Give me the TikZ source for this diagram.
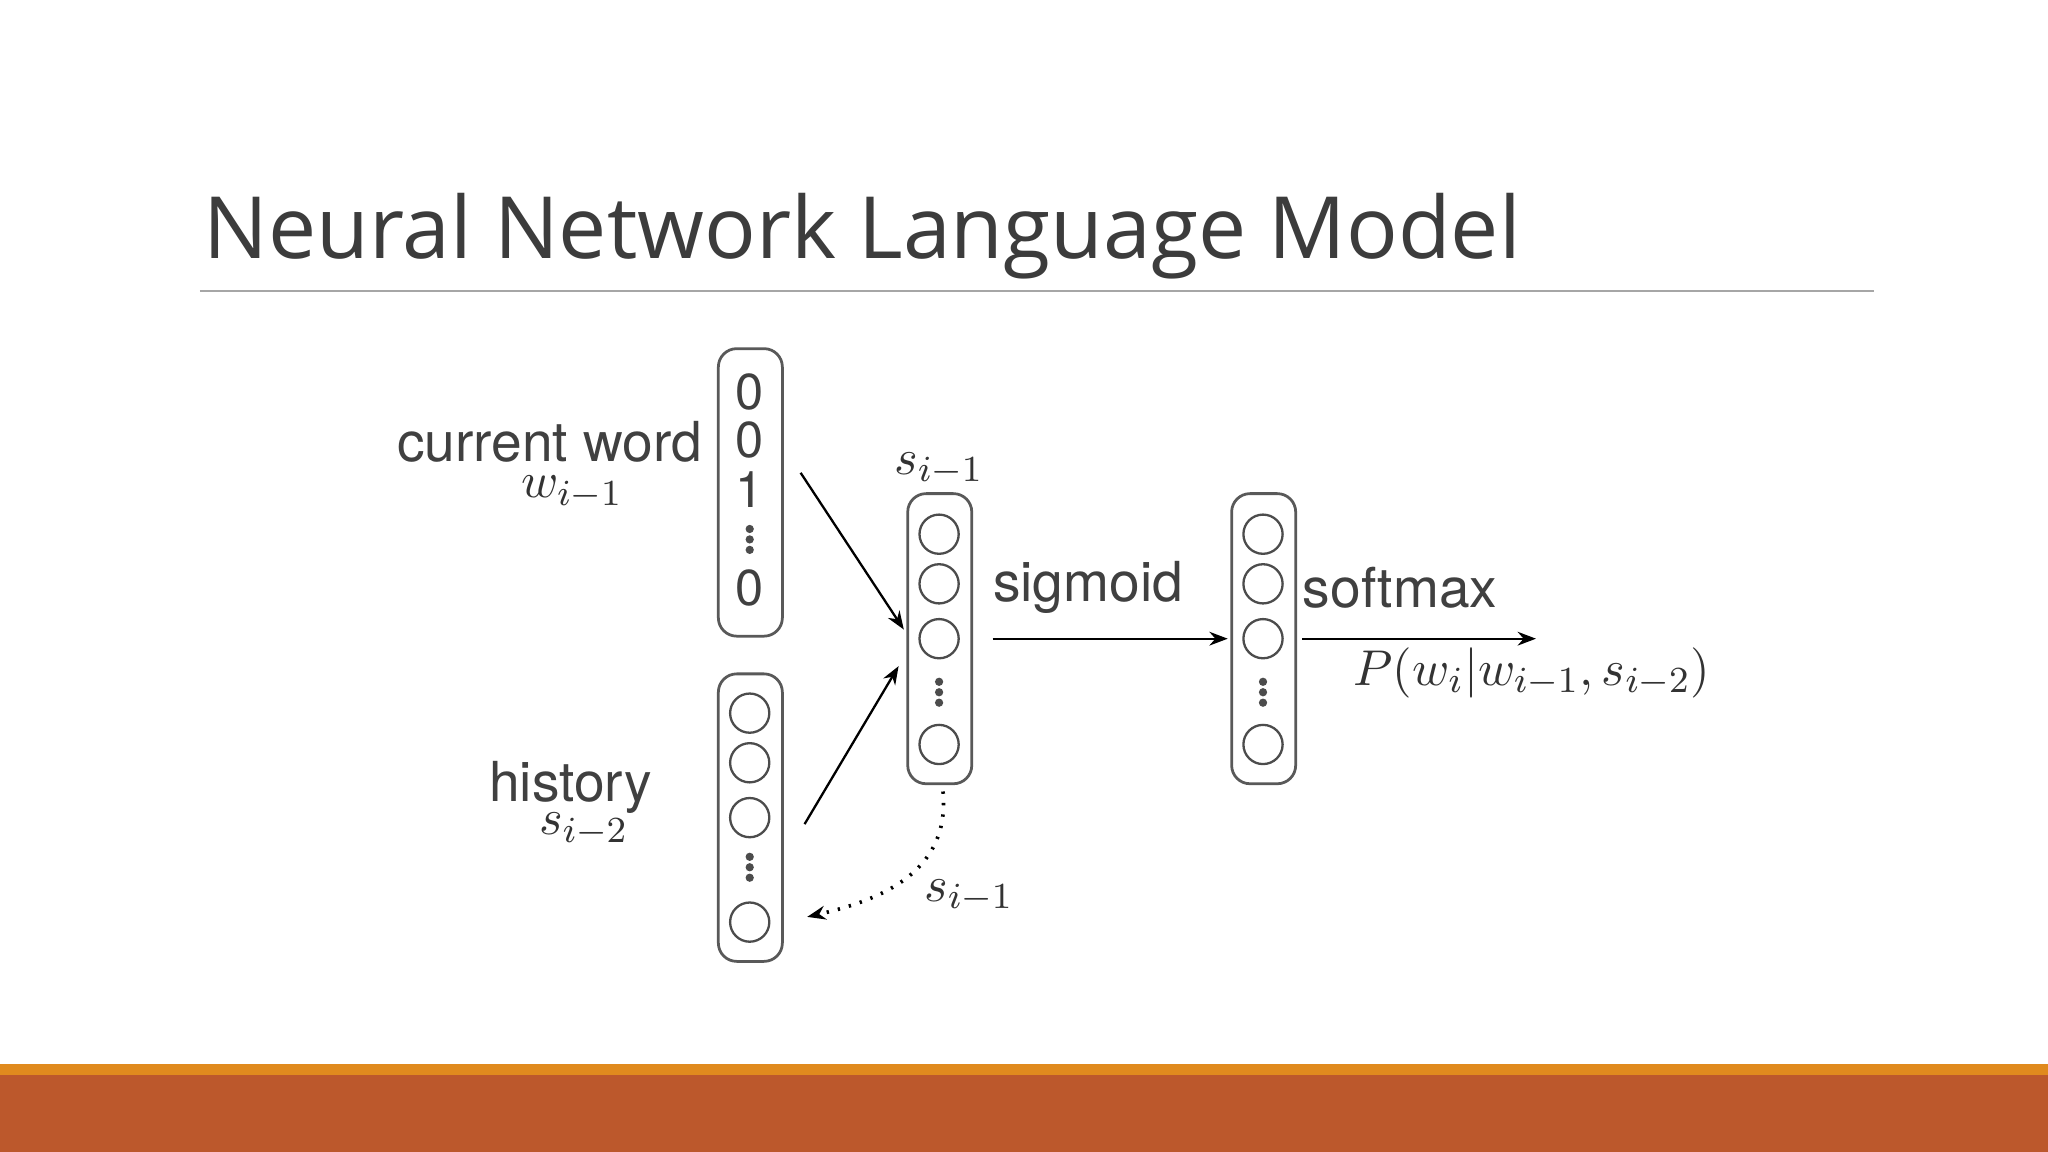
\documentclass[tikz,border=0pt]{standalone}
\usepackage{fontspec}
\setsansfont{TeX Gyre Heros}
\newfontfamily\titlefont{Open Sans}
\usetikzlibrary{arrows.meta}
\definecolor{txt}{RGB}{60,60,60}
\definecolor{bandA}{RGB}{224,138,30}
\definecolor{bandB}{RGB}{188,88,44}
\begin{document}
\begin{tikzpicture}[x=0.01cm,y=-0.01cm,
  vbox/.style={draw=black!65,line width=0.6pt,rounded corners=4pt,minimum width=0.49cm,inner sep=0},
  unit/.style={circle,draw=black!70,line width=0.5pt,minimum size=0.3cm,inner sep=0},
  lab/.style={font=\sffamily\fontsize{12}{12}\selectfont,text=black!75},
  mlab/.style={font=\fontsize{11}{11}\selectfont,text=black!80},
  arr/.style={-{Stealth[length=4pt,width=3pt]},line width=0.5pt}]
\useasboundingbox (0,0) rectangle (1568,882);
\fill[white] (0,0) rectangle (1568,882);
\node[anchor=base west,inner sep=0,text=txt,font=\titlefont\fontsize{18.7}{20}\selectfont] (title) at (155,198) {Neural Network Language Model};
\draw[black!35,line width=0.5pt] (153,223) -- (1435,223);
\fill[bandA] (0,815) rectangle (1568,823);
\fill[bandB] (0,823) rectangle (1568,882);
% boxes
\node[vbox,minimum height=2.2cm] (b1) at (574.5,377) {};
\node[vbox,minimum height=2.2cm] (b2) at (574.5,626) {};
\node[vbox,minimum height=2.22cm] (b3) at (719.5,489) {};
\node[vbox,minimum height=2.22cm] (b4) at (967.5,489) {};
% one-hot
\foreach \y/\t [count=\i] in {300/0,337/0,375/1,450/0}
  \node[lab,font=\sffamily\fontsize{11}{11}\selectfont] (d\i) at (574,\y) {\t};
\foreach \dy in {-8,0,8} \fill[black!70] (574,413+\dy) circle (0.9pt);
% units
\foreach \b/\x/\a/\bb/\c/\v/\d in {h/574/546/584/626/664/706, s/719/409/447/489/530/570, o/967/409/447/489/530/570}{
  \node[unit] (\b1) at (\x,\a) {};
  \node[unit] (\b2) at (\x,\bb) {};
  \node[unit] (\b3) at (\x,\c) {};
  \foreach \dy in {-8,0,8} \fill[black!70] (\x,\v+\dy) circle (0.9pt);
  \node[unit] (\b4) at (\x,\d) {};
}
% labels
\node[lab] (cw) at (421,338) {current word};
\node[mlab] (wl) at (438,377) {$w_{i-1}$};
\node[lab] (hi) at (437,603) {history};
\node[mlab] (sl) at (447,635) {$s_{i-2}$};
\node[mlab] (st) at (719,359) {$s_{i-1}$};
\node[lab] (sg) at (833,450) {sigmoid};
\node[lab] (sm) at (1072,450) {softmax};
\node[mlab,anchor=west] (pp) at (1024,515) {$P(w_i|w_{i-1},s_{i-2})$};
\node[mlab] (sb) at (742,686) {$s_{i-1}$};
% arrows
\coordinate (a1s) at (613,362); \coordinate (a1e) at (692,482);
\coordinate (a2s) at (616,631); \coordinate (a2e) at (688,510);
\draw[arr] (a1s) -- (a1e);
\draw[arr] (a2s) -- (a2e);
\coordinate (c1s) at (760,489); \coordinate (c1e) at (940,489);
\coordinate (c2s) at (997,489); \coordinate (c2e) at (1176,489);
\draw[arr] (c1s) -- (c1e);
\draw[arr] (c2s) -- (c2e);
\coordinate (ds) at (722,606); \coordinate (de) at (618,702);
\draw[arr,dotted,line width=0.8pt] (ds) .. controls (728,670) and (670,690) .. (de);
\end{tikzpicture}
\end{document}
